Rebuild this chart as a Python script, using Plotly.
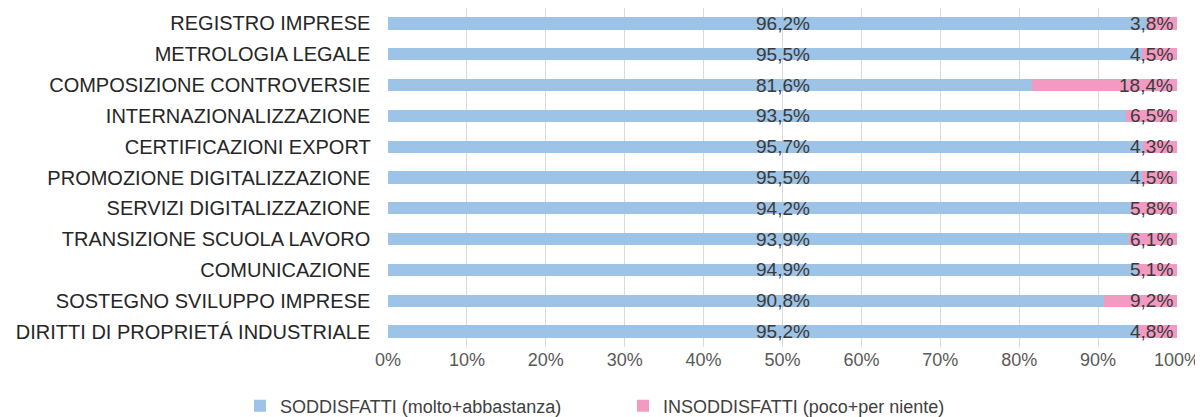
import plotly.graph_objects as go

categories = [
    "REGISTRO IMPRESE",
    "METROLOGIA LEGALE",
    "COMPOSIZIONE CONTROVERSIE",
    "INTERNAZIONALIZZAZIONE",
    "CERTIFICAZIONI EXPORT",
    "PROMOZIONE DIGITALIZZAZIONE",
    "SERVIZI DIGITALIZZAZIONE",
    "TRANSIZIONE SCUOLA LAVORO",
    "COMUNICAZIONE",
    "SOSTEGNO SVILUPPO IMPRESE",
    "DIRITTI DI PROPRIETÁ INDUSTRIALE",
]
soddisfatti = [96.2, 95.5, 81.6, 93.5, 95.7, 95.5, 94.2, 93.9, 94.9, 90.8, 95.2]
insoddisfatti = [3.8, 4.5, 18.4, 6.5, 4.3, 4.5, 5.8, 6.1, 5.1, 9.2, 4.8]
tick_vals = [0, 10, 20, 30, 40, 50, 60, 70, 80, 90, 100]
tick_text = [f"{v}%" for v in tick_vals]

BLUE = "#9dc3e6"
PINK = "#f39ac3"
FONT = "Liberation Sans, Arial, sans-serif"

fig = go.Figure()
fig.add_trace(go.Bar(
    y=categories, x=soddisfatti, orientation="h", name="SODDISFATTI (molto+abbastanza)",
    marker=dict(color=BLUE, line=dict(width=0)), width=0.4,
))
fig.add_trace(go.Bar(
    y=categories, x=insoddisfatti, orientation="h", name="INSODDISFATTI (poco+per niente)",
    marker=dict(color=PINK, line=dict(width=0)), width=0.4,
))

annotations = []
for c, s, i in zip(categories, soddisfatti, insoddisfatti):
    annotations.append(dict(
        x=50, y=c, xref="x", yref="y", text=f"{s:.1f}%".replace(".", ","),
        showarrow=False, xanchor="center", yanchor="middle",
        font=dict(family=FONT, size=19, color="#3a3a3a"),
    ))
    annotations.append(dict(
        x=100, y=c, xref="x", yref="y", text=f"{i:.1f}%".replace(".", ","),
        showarrow=False, xanchor="right", yanchor="middle", xshift=-2,
        font=dict(family=FONT, size=19, color="#3a3a3a"),
    ))

W, H = 1195, 409
fig.update_layout(
    barmode="stack",
    width=W, height=H,
    margin=dict(l=380, r=26, t=0, b=70),
    plot_bgcolor="white", paper_bgcolor="white",
    font=dict(family=FONT, size=19, color="#262626"),
    annotations=annotations,
    bargap=0.6,
    legend=dict(
        orientation="h", xref="container", yref="container",
        x=232 / W, xanchor="left", y=11 / H, yanchor="middle",
        font=dict(family=FONT, size=18, color="#404040"),
        traceorder="normal", itemwidth=30, entrywidth=338,
    ),
)
fig.update_xaxes(
    range=[0, 100], tickvals=tick_vals, ticktext=tick_text,
    showgrid=True, gridcolor="#d9d9d9", gridwidth=1,
    zeroline=False, showline=False, ticks="",
    tickfont=dict(family=FONT, size=18, color="#595959"),
    ticklabeloverflow="allow",
    fixedrange=True,
)
fig.update_yaxes(
    autorange="reversed", showgrid=False, ticks="", ticklen=0,
    tickfont=dict(family=FONT, size=20, color="#262626"),
    ticksuffix="   ",
)

fig.write_html("out.html")
